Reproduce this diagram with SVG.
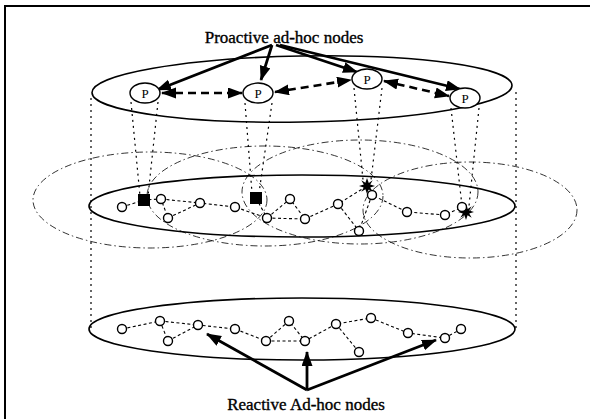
<svg xmlns="http://www.w3.org/2000/svg" width="590" height="419" viewBox="0 0 590 419">
  <style>
    .frame { stroke: #000; stroke-width: 2; fill: none; }
    .layer { fill: none; stroke: #000; stroke-width: 1.6; }
    .range { fill: none; stroke: #000; stroke-width: 0.8; stroke-dasharray: 7 3 1.5 3; }
    .guide { fill: none; stroke: #000; stroke-width: 1.2; stroke-dasharray: 2 4; }
    .link { fill: none; stroke: #000; stroke-width: 1.1; stroke-dasharray: 3 2.5; }
    .node { fill: #fff; stroke: #000; stroke-width: 1.4; }
    .pnode { fill: #fff; stroke: #000; stroke-width: 1.4; }
    .plabel { font-family: "Liberation Serif", "Times New Roman", serif; font-size: 13px; text-anchor: middle; fill: #000; }
    .head { fill: #000; }
    .pointer { fill: none; stroke: #000; stroke-width: 2.8; }
    .peer { fill: none; stroke: #000; stroke-width: 2.6; stroke-dasharray: 8 5; }
    .caption { font-family: "Liberation Serif", "Times New Roman", serif; font-size: 17px; text-anchor: middle; fill: #000; stroke: #000; stroke-width: 0.35; }
  </style>
  <defs>
    <marker id="tip" markerUnits="userSpaceOnUse" markerWidth="16" markerHeight="12" refX="14" refY="5.5" orient="auto-start-reverse">
      <path d="M0,0 L15,5.5 L0,11 Z" fill="#000"/>
    </marker>
    <polygon id="star" points="0,-8 1.8,-3 5.7,-5.7 3.2,-1.4 8,0 3.2,1.6 5.7,5.7 1.6,3.2 0,8 -1.6,3.2 -5.7,5.7 -3.2,1.6 -8,0 -3.2,-1.6 -5.7,-5.7 -1.6,-3.2" />
  </defs>

  <!-- page frame -->
  <path class="frame" d="M5,419 V6 H590"/>

  <!-- cylinder guides between layers -->
  <g id="guides">
    <line class="guide" x1="91" y1="98" x2="91" y2="328"/>
    <line class="guide" x1="516" y1="92" x2="516" y2="328"/>
    <line class="guide" x1="131" y1="102" x2="140" y2="196"/>
    <line class="guide" x1="158" y1="102" x2="148" y2="196"/>
    <line class="guide" x1="245" y1="103" x2="252" y2="193"/>
    <line class="guide" x1="272" y1="103" x2="259" y2="193"/>
    <line class="guide" x1="354" y1="88" x2="363" y2="180"/>
    <line class="guide" x1="382" y1="88" x2="371" y2="180"/>
    <line class="guide" x1="451" y1="108" x2="462" y2="206"/>
    <line class="guide" x1="479" y1="108" x2="469" y2="206"/>
  </g>

  <!-- layer planes -->
  <g id="layer-proactive">
    <ellipse class="layer" cx="302" cy="89" rx="210" ry="33" transform="rotate(-1 302 89)"/>
  </g>
  <g id="layer-cluster">
    <ellipse class="range" cx="150" cy="200" rx="117" ry="48"/>
    <ellipse class="range" cx="265" cy="196" rx="118" ry="50"/>
    <ellipse class="range" cx="360" cy="192" rx="118" ry="52"/>
    <ellipse class="range" cx="470" cy="210" rx="107" ry="48"/>
    <ellipse class="layer" cx="302" cy="206" rx="213" ry="31"/>
  </g>
  <g id="layer-reactive">
    <ellipse class="layer" cx="302" cy="329" rx="213" ry="31"/>
  </g>

  <!-- connectors -->
  <g id="connectors">
    <!-- links in the cluster layer -->
    <polyline class="link" points="122,207 144,200 161,199 168,218 200,203 235,207 267,218 290,199 305,219 338,204 367,186 372,195 407,212 445,215 462,207"/>
    <line class="link" x1="161" y1="199" x2="200" y2="203"/>
    <line class="link" x1="267" y1="218" x2="305" y2="219"/>
    <line class="link" x1="372" y1="195" x2="359" y2="231"/>
    <line class="link" x1="338" y1="204" x2="359" y2="231"/>
    <line class="link" x1="256" y1="198" x2="267" y2="218"/>
    <!-- links in the reactive layer -->
    <polyline class="link" points="122,329 160,321 168,341 198,325 235,329 266,341 289,321 305,341 336,324 371,318 408,333 445,338 461,329"/>
    <line class="link" x1="160" y1="321" x2="198" y2="325"/>
    <line class="link" x1="266" y1="341" x2="305" y2="341"/>
    <line class="link" x1="336" y1="324" x2="359" y2="352"/>

    <!-- peer links between proactive nodes -->
    <line class="peer" x1="162" y1="93" x2="242" y2="93" marker-start="url(#tip)" marker-end="url(#tip)"/>
    <line class="peer" x1="275" y1="92" x2="351" y2="80" marker-start="url(#tip)" marker-end="url(#tip)"/>
    <line class="peer" x1="384" y1="81" x2="449" y2="96" marker-start="url(#tip)" marker-end="url(#tip)"/>

    <!-- label pointers -->
    <line class="pointer" x1="272" y1="45" x2="157" y2="90" marker-end="url(#tip)"/>
    <line class="pointer" x1="272" y1="45" x2="261" y2="80" marker-end="url(#tip)"/>
    <line class="pointer" x1="276" y1="45" x2="357" y2="72" marker-end="url(#tip)"/>
    <line class="pointer" x1="280" y1="45" x2="460" y2="89" marker-end="url(#tip)"/>
    <line class="pointer" x1="307" y1="390" x2="207" y2="334" marker-end="url(#tip)"/>
    <line class="pointer" x1="307" y1="390" x2="307" y2="352" marker-end="url(#tip)"/>
    <line class="pointer" x1="307" y1="390" x2="436" y2="340" marker-end="url(#tip)"/>
  </g>

  <!-- proactive nodes -->
  <g id="p1"><ellipse class="pnode" cx="145" cy="93" rx="15" ry="10"/><text class="plabel" x="145" y="97.5">P</text></g>
  <g id="p2"><ellipse class="pnode" cx="258" cy="93" rx="15" ry="10"/><text class="plabel" x="258" y="97.5">P</text></g>
  <g id="p3"><ellipse class="pnode" cx="367" cy="79" rx="15" ry="10"/><text class="plabel" x="367" y="83.5">P</text></g>
  <g id="p4"><ellipse class="pnode" cx="465" cy="98" rx="15" ry="10"/><text class="plabel" x="465" y="102.5">P</text></g>

  <!-- cluster heads -->
  <g id="h1"><rect class="head" x="138" y="194" width="12" height="12"/></g>
  <g id="h2"><rect class="head" x="250" y="192" width="12" height="12"/></g>
  <g id="h3"><use href="#star" x="367" y="186" class="head"/></g>
  <g id="h4"><use href="#star" x="466" y="212" class="head"/></g>

  <!-- cluster-layer nodes -->
  <g id="cluster-nodes">
    <circle class="node" cx="122" cy="207" r="4.5"/>
    <circle class="node" cx="161" cy="199" r="4.5"/>
    <circle class="node" cx="168" cy="218" r="4.5"/>
    <circle class="node" cx="200" cy="203" r="4.5"/>
    <circle class="node" cx="235" cy="207" r="4.5"/>
    <circle class="node" cx="267" cy="218" r="4.5"/>
    <circle class="node" cx="290" cy="199" r="4.5"/>
    <circle class="node" cx="305" cy="219" r="4.5"/>
    <circle class="node" cx="338" cy="204" r="4.5"/>
    <circle class="node" cx="372" cy="195" r="4.5"/>
    <circle class="node" cx="359" cy="231" r="4.5"/>
    <circle class="node" cx="407" cy="212" r="4.5"/>
    <circle class="node" cx="445" cy="215" r="4.5"/>
    <circle class="node" cx="462" cy="207" r="4.5"/>
  </g>

  <!-- reactive-layer nodes -->
  <g id="reactive-nodes">
    <circle class="node" cx="122" cy="329" r="4.5"/>
    <circle class="node" cx="160" cy="321" r="4.5"/>
    <circle class="node" cx="168" cy="341" r="4.5"/>
    <circle class="node" cx="198" cy="325" r="4.5"/>
    <circle class="node" cx="235" cy="329" r="4.5"/>
    <circle class="node" cx="266" cy="341" r="4.5"/>
    <circle class="node" cx="289" cy="321" r="4.5"/>
    <circle class="node" cx="305" cy="341" r="4.5"/>
    <circle class="node" cx="336" cy="324" r="4.5"/>
    <circle class="node" cx="359" cy="352" r="4.5"/>
    <circle class="node" cx="371" cy="318" r="4.5"/>
    <circle class="node" cx="408" cy="333" r="4.5"/>
    <circle class="node" cx="445" cy="338" r="4.5"/>
    <circle class="node" cx="461" cy="329" r="4.5"/>
  </g>

  <!-- captions -->
  <g id="label-proactive"><text class="caption" x="284" y="43">Proactive ad-hoc nodes</text></g>
  <g id="label-reactive"><text class="caption" x="306" y="410">Reactive Ad-hoc nodes</text></g>
</svg>
